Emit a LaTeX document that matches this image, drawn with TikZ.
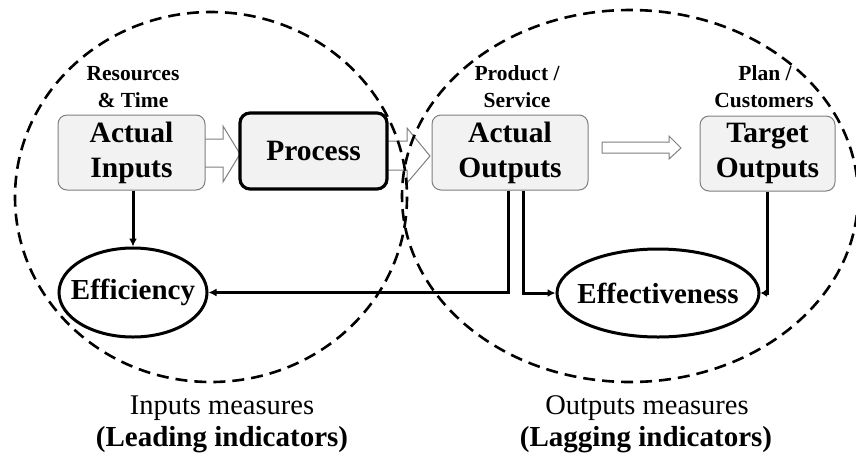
\documentclass[tikz,border=0pt]{standalone}
\usepackage{fontspec}
\setmainfont{Liberation Serif}
\usetikzlibrary{arrows.meta,shapes.geometric}

\definecolor{boxfill}{HTML}{F2F2F2}
\definecolor{boxline}{HTML}{7F7F7F}

\tikzset{
  boxtext/.style={font=\bfseries\fontsize{29.5}{35}\selectfont, align=center},
  softbox/.style={boxtext, draw=boxline, line width=1pt, fill=boxfill,
    rounded corners=9pt, inner sep=0pt},
  hardbox/.style={boxtext, draw=black, line width=3.2pt, fill=boxfill,
    rounded corners=10pt, inner sep=0pt},
  measure/.style={draw=black, line width=3pt, fill=white, ellipse, inner sep=0pt},
  measuretext/.style={font=\bfseries\fontsize{29}{35}\selectfont},
  smalllabel/.style={font=\bfseries\fontsize{21.5}{24}\selectfont, anchor=base, inner sep=0pt},
  caption/.style={font=\fontsize{28.5}{32}\selectfont, anchor=base, inner sep=0pt},
  captionbold/.style={font=\bfseries\fontsize{29}{32}\selectfont, anchor=base, inner sep=0pt},
  conn/.style={draw=black, line width=3pt, -{Latex[length=8pt,width=8pt]}},
  shortconn/.style={draw=black, line width=3pt, -{Latex[length=6.5pt,width=8pt]}},
  blockarrow/.style={draw=boxline, line width=1pt, fill=white, line join=miter},
  zone/.style={draw=black, line width=2.6pt, dash pattern=on 12pt off 7pt},
}

\begin{document}
\begin{tikzpicture}[x=1pt, y=-1pt]
  \useasboundingbox[fill=white] (0,0) rectangle (856,456);

  % hollow flow arrows between the boxes (drawn first, boxes cover the tails)
  \draw[blockarrow] (200,139) -- (223,139) -- (223,126) -- (240,154)
    -- (223,182) -- (223,167) -- (200,167) -- cycle;
  \draw[blockarrow] (383,141) -- (407,141) -- (407,128) -- (430,156)
    -- (407,183) -- (407,170) -- (383,170) -- cycle;
  \draw[blockarrow] (602,142) -- (669,142) -- (669,136) -- (681,148)
    -- (669,159) -- (669,153) -- (602,153) -- cycle;

  % boxes
  \node[softbox, minimum width=147pt, minimum height=75pt] (ai) at (131.5,152.5) {Actual\\Inputs};
  \node[hardbox, minimum width=147pt, minimum height=76pt] (pr) at (313.5,151) {Process};
  \node[softbox, minimum width=156pt, minimum height=75pt] (ao) at (510,152.5) {Actual\\Outputs};
  \node[softbox, minimum width=135pt, minimum height=75pt] (to) at (767.5,153.5) {Target\\Outputs};

  % labels above the boxes
  \node[smalllabel] (res1) at (133,80) {Resources};
  \node[smalllabel] (res2) at (133,107) {\& Time};
  \node[smalllabel] (prd1) at (517,80) {Product /};
  \node[smalllabel] (prd2) at (517,107) {Service};
  \node[smalllabel] (pln1) at (765,80) {Plan /};
  \node[smalllabel] (pln2) at (764,107) {Customers};

  % measures
  \node[measure, minimum width=148pt, minimum height=89pt,
        label={[measuretext]center:Efficiency}] (eff) at (133,292.5) {};
  \node[measure, minimum width=202pt, minimum height=88pt,
        label={[measuretext]center:Effectiveness}] (eft) at (658,293) {};

  % connectors
  \draw[conn] (ai.south -| eff.north) -- (eff.north);
  \draw[conn] ([xshift=-2pt]ao.south) |- (eff.east);
  \draw[conn] ([xshift=13pt]ao.south) |- (eft.west);
  \draw[shortconn] (to.south) |- (eft.east);

  % dashed zones
  \draw[zone] (211,197) ellipse [x radius=196, y radius=185];
  \draw[zone] (630,196) ellipse [x radius=228, y radius=186];

  % captions
  \node[caption] (inm) at (222,414) {Inputs measures};
  \node[captionbold] (lead) at (222,446) {(Leading indicators)};
  \node[caption] (outm) at (647,414) {Outputs measures};
  \node[captionbold] (lag) at (646,446) {(Lagging indicators)};
\end{tikzpicture}
\end{document}
